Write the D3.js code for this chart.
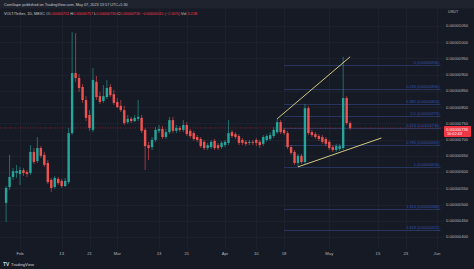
<!DOCTYPE html>
<html><head><meta charset="utf-8">
<script src="https://cdn.jsdelivr.net/npm/d3@7/dist/d3.min.js"></script>
<style>
html,body{margin:0;padding:0;background:#161a25;overflow:hidden}
svg{display:block;font-family:"Liberation Sans",Arial,sans-serif}
</style></head><body>
<svg id="c" width="474" height="269"></svg>
<script>
// ---- data (prices in units of 1e-6 USDT) ----
const startDate = "2023-01-28";
const opens  = [5.05,5.54,5.85,5.97,5.94,6.06,6.00,5.97,6.62,6.34,6.74,6.53,6.28,5.76,5.54,5.79,5.73,5.57,5.69,7.20,9.05,8.90,8.62,8.22,7.76,7.30,8.78,8.34,8.19,8.31,8.62,8.40,8.16,8.04,7.91,7.54,7.64,7.57,7.64,7.67,7.30,6.83,6.77,6.99,7.27,7.33,7.08,7.23,7.60,7.27,7.36,7.30,7.45,7.27,7.20,7.08,7.02,6.93,6.74,6.77,6.96,6.83,6.77,6.83,6.90,7.23,7.17,7.11,6.99,6.93,6.90,6.93,6.99,6.93,6.87,6.99,7.02,7.11,7.23,7.54,7.30,7.20,6.77,6.62,6.28,6.50,6.31,7.97,7.23,7.17,7.11,7.08,7.02,6.93,6.77,6.68,6.71,6.74,8.28,7.51];
const highs  = [5.57,6.53,6.13,6.22,6.16,6.13,6.06,6.83,6.74,7.08,6.80,6.62,6.37,5.82,5.88,5.85,5.79,5.82,7.36,10.31,10.28,9.02,8.71,8.34,7.91,9.21,8.96,8.47,8.68,8.84,8.71,8.53,8.28,8.22,8.04,7.76,7.70,7.76,8.22,7.76,7.36,6.93,7.08,7.39,7.45,7.42,7.33,7.70,7.70,7.45,7.42,7.60,7.54,7.33,7.27,7.14,7.08,6.99,6.90,6.99,7.02,6.90,6.96,6.99,7.60,7.30,7.23,7.17,7.05,6.99,6.99,6.99,7.05,6.99,7.14,7.17,7.23,7.39,7.64,7.60,7.36,7.27,6.83,6.68,6.56,6.56,8.10,8.04,7.30,7.23,7.17,7.14,7.08,6.99,6.83,6.87,6.87,9.55,8.34,7.57];
const lows   = [4.46,5.45,5.76,5.82,5.60,5.88,5.85,5.91,6.25,6.28,6.43,6.16,5.63,5.39,5.48,5.60,5.51,5.54,5.63,7.14,8.78,8.47,8.13,7.57,7.27,7.23,8.22,8.10,8.13,8.25,8.31,8.07,7.97,7.85,7.45,7.48,7.51,7.54,7.57,7.20,6.06,6.37,6.68,6.93,7.20,7.02,7.02,7.17,7.20,7.20,7.23,7.23,7.11,7.05,6.96,6.93,6.74,6.68,6.68,6.71,6.68,6.68,6.71,6.77,6.83,7.05,7.02,6.83,6.83,6.80,6.83,6.83,6.80,6.74,6.80,6.93,6.96,7.05,7.17,7.17,7.14,6.71,6.53,6.22,6.16,6.25,6.25,7.14,7.08,7.02,6.96,6.87,6.80,6.68,6.62,6.62,6.65,6.68,7.45,7.30];
const closes = [5.51,5.85,6.03,6.03,6.06,5.97,5.94,6.62,6.31,6.74,6.50,6.22,5.69,5.51,5.82,5.66,5.57,5.73,7.20,9.05,8.90,8.59,8.22,7.67,7.36,8.84,8.31,8.16,8.34,8.59,8.37,8.13,8.00,7.91,7.51,7.64,7.57,7.67,7.70,7.27,6.80,6.74,6.99,7.30,7.33,7.08,7.23,7.60,7.27,7.36,7.30,7.45,7.17,7.11,7.02,6.99,6.80,6.74,6.83,6.93,6.74,6.74,6.90,6.93,7.20,7.11,7.08,6.90,6.90,6.87,6.93,6.90,6.90,6.83,7.08,7.11,7.14,7.30,7.54,7.23,7.20,6.77,6.59,6.28,6.50,6.31,7.97,7.20,7.14,7.08,7.02,6.93,6.87,6.74,6.68,6.80,6.80,8.28,7.51,7.36];

const priceTicks = [4.0,4.5,5.0,5.5,6.0,6.5,7.0,7.5,8.0,8.5,9.0,9.5,10.0,10.5];
const timeTickDates  = ["2023-02-01","2023-02-13","2023-02-21","2023-03-01","2023-03-13","2023-03-21","2023-04-01","2023-04-10","2023-04-18","2023-05-01","2023-05-15","2023-05-23","2023-06-01"];
const timeTickLabels = ["Feb","13","21","Mar","13","21","Apr","10","18","May","15","23","Jun"];

// Fibonacci retracement (anchor prices and levels)
const fibStartDate = "2023-04-18", fibEndDate = "2023-06-02";
const fibPrice0 = 9.30, fibPrice1 = 6.16;
const fibLevels = [0,0.236,0.382,0.5,0.618,0.786,1,1.414,1.618];

// Trendlines [date, price]
const upperTrend = [["2023-04-16",7.64],["2023-05-07",9.55]];
const lowerTrend = [["2023-04-22",6.16],["2023-05-16",7.05]];

const lastPrice = 7.36;
const unit = 1e-6;

// ---- drawing ----
const svg = d3.select("#c");
const W=474,H=269;
const paneRight = 443, paneTop = 9, paneBottom = 249;
const x = d3.scaleUtc().domain([new Date("2023-02-01"),new Date("2023-06-01")]).range([20,437]);
const y = d3.scaleLinear().domain([4.0,10.5]).range([237,26]);
const fmt = v => (v*unit).toFixed(8);
const day = 864e5;
const t0 = new Date(startDate).getTime();
const candles = opens.map((o,i)=>({d:new Date(t0+i*day),o,h:highs[i],l:lows[i],c:closes[i]}));

svg.append("rect").attr("width",W).attr("height",H).attr("fill","#161a25");
svg.append("rect").attr("width",W).attr("height",8.5).attr("fill","#1f232e");

// grid
const grid = svg.append("g");
grid.selectAll("line.v").data(timeTickDates).join("line")
  .attr("x1",d=>Math.round(x(new Date(d)))+0.5).attr("x2",d=>Math.round(x(new Date(d)))+0.5)
  .attr("y1",paneTop).attr("y2",paneBottom).attr("stroke","#1d212d");
grid.selectAll("line.h").data(priceTicks).join("line")
  .attr("x1",0).attr("x2",paneRight).attr("y1",d=>Math.round(y(d))+0.5).attr("y2",d=>Math.round(y(d))+0.5)
  .attr("stroke","#1d212d");

// fib
const fx1 = x(new Date(fibStartDate)), fx2 = x(new Date(fibEndDate));
const fibG = svg.append("g");
fibLevels.forEach(r=>{
  const p = fibPrice0 - r*(fibPrice0-fibPrice1);
  const yy = Math.round(y(p))+0.5;
  fibG.append("line").attr("x1",fx1).attr("x2",fx2).attr("y1",yy).attr("y2",yy)
    .attr("stroke","#28355e").attr("stroke-width",1);
  fibG.append("text").attr("x",fx2-1).attr("y",yy-1.5).attr("text-anchor","end")
    .attr("font-size",3.8).attr("fill","#3552a8").text(`${r} (${fmt(p)})`);
});

// last price line
svg.append("line").attr("x1",0).attr("x2",paneRight).attr("y1",y(lastPrice)).attr("y2",y(lastPrice))
  .attr("stroke","#f23645").attr("stroke-opacity",0.45).attr("stroke-dasharray","1,1.5");

// candles
const bw = 2.4;
const cg = svg.append("g");
candles.forEach(c=>{
  const up = c.c>=c.o, col = up?"#26a69a":"#ef5350";
  const cx = x(c.d);
  cg.append("line").attr("x1",cx).attr("x2",cx).attr("y1",y(c.h)).attr("y2",y(c.l))
    .attr("stroke",col).attr("stroke-width",0.6);
  const yt = y(Math.max(c.o,c.c)), yb = y(Math.min(c.o,c.c));
  cg.append("rect").attr("x",cx-bw/2).attr("y",yt).attr("width",bw).attr("height",Math.max(0.8,yb-yt)).attr("fill",col);
});

// trendlines
[upperTrend,lowerTrend].forEach(t=>{
  svg.append("line").attr("x1",x(new Date(t[0][0]))).attr("y1",y(t[0][1]))
    .attr("x2",x(new Date(t[1][0]))).attr("y2",y(t[1][1]))
    .attr("stroke","#e6dc8a").attr("stroke-width",0.9);
});

// price axis
const pa = svg.append("g");
priceTicks.forEach(p=>{
  pa.append("text").attr("x",446).attr("y",y(p)+1.4).attr("font-size",4.2).attr("fill","#b2b5be").text(fmt(p));
});
pa.append("text").attr("x",448).attr("y",13).attr("font-size",3.8).attr("fill","#b2b5be").text("USDT");
const ly = y(lastPrice);
pa.append("rect").attr("x",444).attr("y",ly-2).attr("width",27).attr("height",11).attr("rx",1).attr("fill","#f23645");
pa.append("text").attr("x",446).attr("y",ly+2.6).attr("font-size",4.2).attr("fill","#ffffff").text(fmt(lastPrice));
pa.append("text").attr("x",447).attr("y",ly+7.4).attr("font-size",3.8).attr("fill","#ffffff").text("10:02:43");

// time axis
const ta = svg.append("g");
timeTickDates.forEach((d,i)=>{
  ta.append("text").attr("x",x(new Date(d))).attr("y",255).attr("text-anchor","middle")
    .attr("font-size",4.2).attr("fill","#b2b5be").text(timeTickLabels[i]);
});

// header
svg.append("text").attr("x",4).attr("y",6).attr("font-size",3.8).attr("fill","#c8cad0")
  .text("CoinGape published on TradingView.com, May 07, 2023 13:57 UTC+5:30");
const hd = svg.append("text").attr("x",4).attr("y",14.5).attr("font-size",3.8);
hd.append("tspan").attr("fill","#c8cad0").text("VOLT/Tether, 1D, MEXC  O");
hd.append("tspan").attr("fill","#f23645").text(fmt(opens[opens.length-1]));
hd.append("tspan").attr("fill","#c8cad0").text("  H");
hd.append("tspan").attr("fill","#f23645").text(fmt(highs[highs.length-1]));
hd.append("tspan").attr("fill","#c8cad0").text("  L");
hd.append("tspan").attr("fill","#f23645").text(fmt(lows[lows.length-1]));
hd.append("tspan").attr("fill","#c8cad0").text("  C");
hd.append("tspan").attr("fill","#f23645").text(fmt(closes[closes.length-1]));
hd.append("tspan").attr("fill","#f23645").text("  −0.00000015 (−2.00%)");
hd.append("tspan").attr("fill","#c8cad0").text("  Vol ");
hd.append("tspan").attr("fill","#f23645").text("3.21B");

// footer logo
const ft = svg.append("g");
ft.append("text").attr("x",3).attr("y",266).attr("font-size",5).attr("font-weight","bold").attr("fill","#d1d4dc").text("TV");
ft.append("text").attr("x",11).attr("y",266).attr("font-size",4.2).attr("fill","#d1d4dc").text("TradingView");
</script>
</body></html>
